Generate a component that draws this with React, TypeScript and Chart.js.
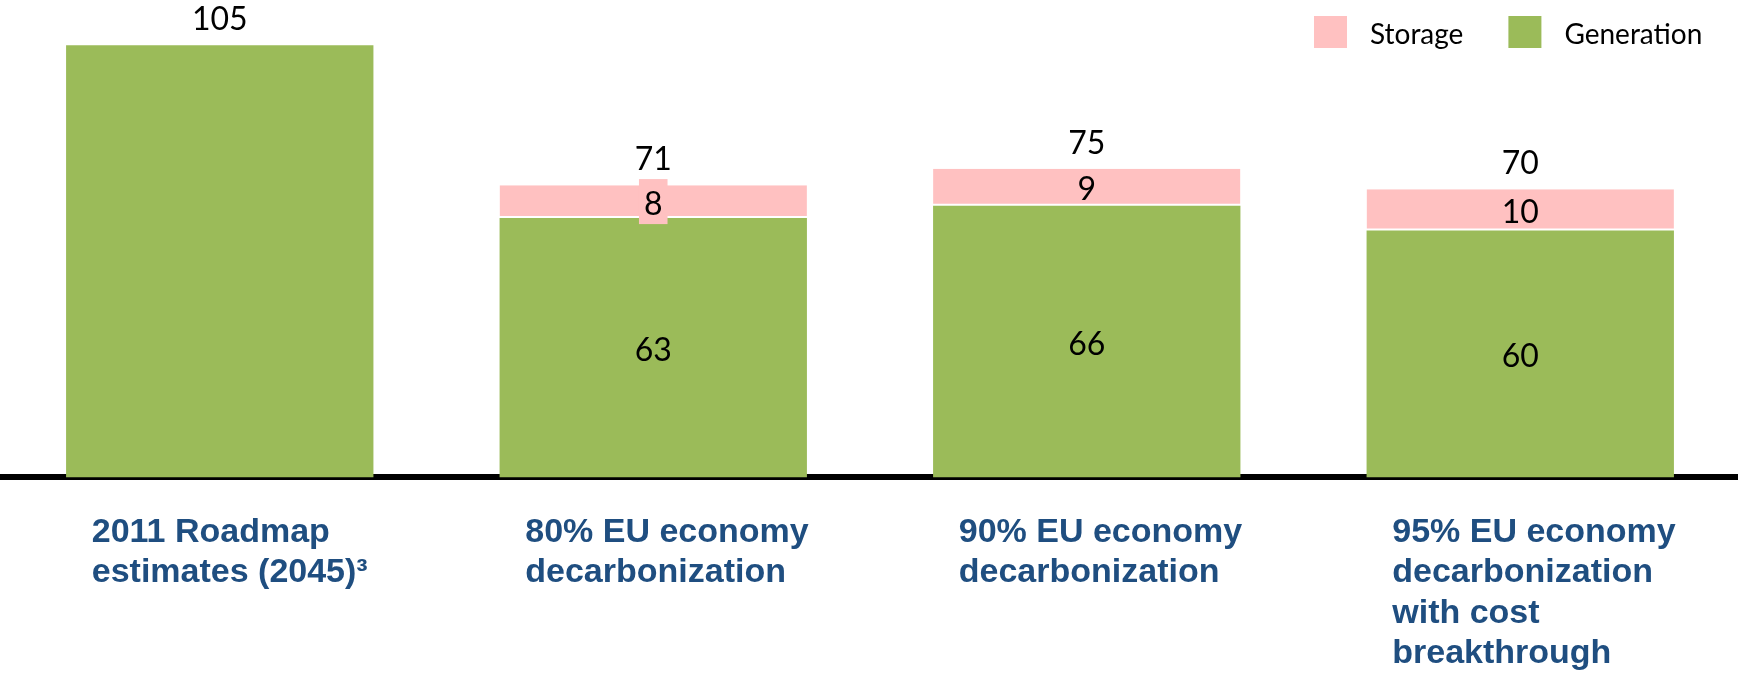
import React, { useEffect, useRef } from "react";
import { Chart, registerables } from "chart.js";

Chart.register(...registerables);

// ---- data ----
const categories: string[][] = [
  ["2011 Roadmap", "estimates (2045)³"],
  ["80% EU economy", "decarbonization"],
  ["90% EU economy", "decarbonization"],
  ["95% EU economy", "decarbonization", "with cost", "breakthrough"],
];
const generationValues: number[] = [105, 63, 66, 60];
const storageValues: (number | null)[] = [null, 8, 9, 10];
const seriesNames: string[] = ["Generation", "Storage"];
const yAxisMin = 0;
const yAxisMax = 115;

// ---- styles ----
const GREEN = "#9BBB59";
const PINK = "#FFC1C1";
const LABEL_BLUE = "#1F4E80";
const NUM_FONT = "Lato, 'Open Sans', sans-serif";
const CAT_FONT = "'Liberation Sans', Arial, sans-serif";

const valueLabels = {
  id: "valueLabels",
  afterDatasetsDraw(chart: any) {
    const ctx = chart.ctx as CanvasRenderingContext2D;
    const n = chart.data.labels.length;
    ctx.save();
    ctx.font = `32px ${NUM_FONT}`;
    ctx.textAlign = "center";
    ctx.textBaseline = "alphabetic";
    for (let i = 0; i < n; i++) {
      const segs: any[] = [];
      chart.data.datasets.forEach((ds: any, di: number) => {
        const v = ds.data[i];
        if (v == null) return;
        const el = chart.getDatasetMeta(di).data[i];
        segs.push({ v, el, color: ds.backgroundColor });
      });
      if (!segs.length) continue;
      const total = segs.reduce((a, s) => a + s.v, 0);
      const topY = Math.min(...segs.map((s) => s.el.y));
      const x = segs[0].el.x;
      if (segs.length > 1) {
        for (const s of segs) {
          const { y, base } = s.el.getProps(["y", "base"], true);
          const cy = (y + base) / 2;
          const text = String(s.v);
          const w = ctx.measureText(text).width;
          if (Math.abs(base - y) < 35) {
            ctx.fillStyle = s.color;
            ctx.fillRect(x - w / 2 - 5, cy - 22.5, w + 10, 45);
          }
          ctx.fillStyle = "#000";
          ctx.fillText(text, x, cy + 13);
        }
      }
      ctx.fillStyle = "#000";
      ctx.fillText(String(total), x, topY - 15);
    }
    ctx.restore();
  },
};

const legendPlugin = {
  id: "customLegend",
  afterDraw(chart: any) {
    const ctx = chart.ctx as CanvasRenderingContext2D;
    ctx.save();
    ctx.font = `28px ${NUM_FONT}`;
    ctx.textAlign = "left";
    ctx.textBaseline = "alphabetic";
    let x = 1314;
    const items = chart.data.datasets.slice().reverse();
    for (const ds of items) {
      ctx.fillStyle = ds.backgroundColor;
      ctx.fillRect(x, 16, 33, 32);
      x += 33 + 23;
      ctx.fillStyle = "#000";
      ctx.fillText(ds.label, x, 44);
      x += ctx.measureText(ds.label).width + 45;
    }
    ctx.restore();
  },
};

export default function App() {
  const ref = useRef<HTMLCanvasElement | null>(null);
  useEffect(() => {
    if (!ref.current) return;
    const chart = new Chart(ref.current, {
      type: "bar",
      data: {
        labels: categories,
        datasets: [
          {
            label: seriesNames[0],
            data: generationValues,
            backgroundColor: GREEN,
            borderWidth: 0,
            barPercentage: 0.709,
            categoryPercentage: 1,
          },
          {
            label: seriesNames[1],
            data: storageValues,
            backgroundColor: PINK,
            borderColor: "#FFFFFF",
            borderWidth: { top: 0, left: 0, right: 0, bottom: 2 },
            borderSkipped: false,
            barPercentage: 0.709,
            categoryPercentage: 1,
          },
        ],
      } as any,
      options: {
        responsive: false,
        animation: false,
        devicePixelRatio: 1,
        layout: { padding: { left: 3, right: 1, top: 4, bottom: -31 } },
        plugins: {
          legend: { display: false },
          tooltip: { enabled: false },
        },
        scales: {
          x: {
            stacked: true,
            z: 1,
            grid: { display: false, drawTicks: false },
            border: { display: true, color: "#000000", width: 6 },
            ticks: {
              align: "start",
              labelOffset: -128,
              padding: 35,
              color: LABEL_BLUE,
              autoSkip: false,
              maxRotation: 0,
              minRotation: 0,
              font: { family: CAT_FONT, size: 34, weight: "bold", lineHeight: 40.4 / 34 },
            },
            afterFit(scale: any) {
              scale.paddingLeft = 0;
              scale.paddingRight = 0;
            },
          },
          y: {
            stacked: true,
            display: false,
            min: yAxisMin,
            max: yAxisMax,
          },
        },
      } as any,
      plugins: [valueLabels, legendPlugin],
    });
    return () => chart.destroy();
  }, []);
  return (
    <div style={{ position: "absolute", left: 0, top: 0, width: 1738, height: 678, background: "#fff" }}>
      <canvas ref={ref} width={1738} height={678} style={{ display: "block" }} />
    </div>
  );
}
